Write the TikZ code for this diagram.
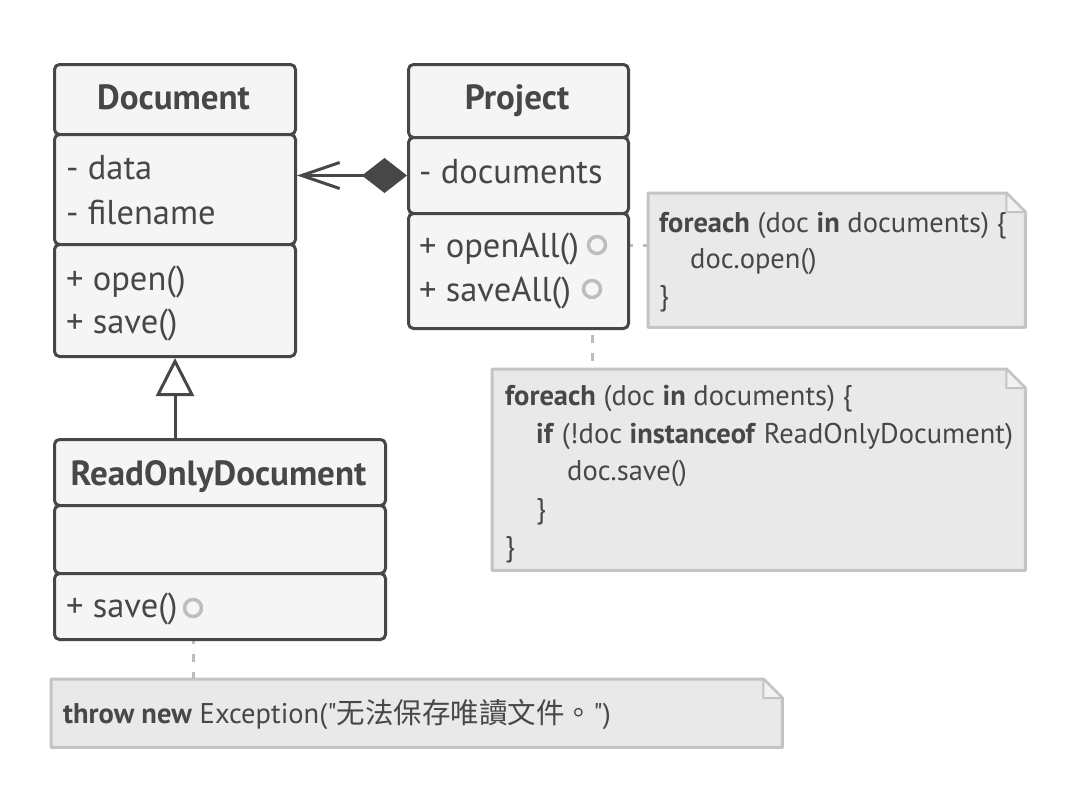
\documentclass[tikz,border=0pt]{standalone}
\usepackage{fontspec}
\setmainfont{PT Sans}[Ligatures=TeXOff]
\newfontfamily\cjk{Noto Sans CJK TC}
\usetikzlibrary{arrows.meta}
\definecolor{ink}{HTML}{474747}
\definecolor{boxfill}{HTML}{F5F5F5}
\definecolor{notefill}{HTML}{E9E9E9}
\definecolor{noteline}{HTML}{C4C4C4}
\definecolor{pinline}{HTML}{BDBDBD}
\definecolor{foldfill}{HTML}{F2F2F2}
\newcommand\drawnote[1]{%
  \draw[notestyle] (#1.north west) -- ([xshift=-19pt]#1.north east) -- ([yshift=-19pt]#1.north east) -- (#1.south east) -- (#1.south west) -- cycle;
  \draw[draw=noteline, line width=2pt, fill=foldfill, line join=round] ([xshift=-19pt]#1.north east) -- ([xshift=-19pt,yshift=-19pt]#1.north east) -- ([yshift=-19pt]#1.north east) -- cycle;}
\begin{document}
\begin{tikzpicture}[x=1pt,y=-1pt,
  comp/.style={draw=ink, fill=boxfill, line width=3pt, rounded corners=5pt, anchor=north west, inner sep=0pt},
  ctitle/.style={font=\fontsize{35}{40}\selectfont\bfseries, text=ink, anchor=base, inner sep=0pt},
  ctext/.style={font=\fontsize{34.5}{40}\selectfont, text=ink, anchor=base west, inner sep=0pt},
  ntext/.style={font=\fontsize{28.5}{36}\selectfont, text=ink, anchor=base west, inner sep=0pt},
  notebg/.style={inner sep=0pt, anchor=north west},
  notestyle/.style={draw=noteline, fill=notefill, line width=3pt, line join=round},
  pin/.style={circle, draw=pinline, fill=boxfill, line width=3.5pt, minimum size=17pt, inner sep=0pt},
  link/.style={draw=pinline, line width=3pt, dash pattern=on 8pt off 10pt},
  rel/.style={draw=ink, line width=3pt}
]
\fill[white] (0,0) rectangle (1080,790);
\useasboundingbox (0,0) rectangle (1080,790);

% note placeholders
\node[notebg, minimum width=377pt, minimum height=134pt] (n1) at (648,193) {};
\node[notebg, minimum width=533pt, minimum height=201pt] (n2) at (492,369) {};
\node[notebg, minimum width=731pt, minimum height=68pt] (n3) at (51,679) {};

% pins
\node[pin] (pin1) at (597,245) {};
\node[pin] (pin2) at (592,289) {};
\node[pin] (pin3) at (193,608) {};

% links
\draw[link] (pin1.east) -- (pin1 -| n1.west);
\draw[link] (pin2.south) -- (pin2 |- n2.north);
\draw[link] (pin3.south) -- (pin3 |- n3.north);

% notes
\drawnote{n1}
\drawnote{n2}
\drawnote{n3}

% Document
\node[comp, minimum width=241pt, minimum height=70pt] (docH) at (53,63) {};
\node[comp, minimum width=241pt, minimum height=110pt] (docA) at (53,133) {};
\node[comp, minimum width=241pt, minimum height=112pt] (docM) at (53,243) {};
% Project
\node[comp, minimum width=220pt, minimum height=73pt] (prjH) at (407,63) {};
\node[comp, minimum width=220pt, minimum height=76pt] (prjA) at (407,136) {};
\node[comp, minimum width=220pt, minimum height=115pt] (prjM) at (407,212) {};
% ReadOnlyDocument
\node[comp, minimum width=331pt, minimum height=66pt] (rodH) at (53,438) {};
\node[comp, minimum width=331pt, minimum height=68pt] (rodA) at (53,504) {};
\node[comp, minimum width=331pt, minimum height=66pt] (rodM) at (53,572) {};

% pins on top
\node[pin] at (pin1) {};
\node[pin] at (pin2) {};
\node[pin] at (pin3) {};

% relations
\draw[rel, {Straight Barb[length=38pt,width=26pt,line width=3pt]}-{Diamond[length=45pt,width=35pt,fill=ink]}] (docA.east |- prjA.west) -- (prjA.west);
\draw[rel, -{Triangle[length=38pt,width=38pt,fill=white,line width=3pt]}] (docM.south |- rodH.north) -- (docM.south);

% class texts
\node[ctitle] (docT) at (173.5,109) {Document};
\node[ctext] (docA1) at (66,179) {- data};
\node[ctext] (docA2) at (66,224) {- filename};
\node[ctext] (docM1) at (66,290) {+ open()};
\node[ctext] (docM2) at (66,333) {+ save()};
\node[ctitle] (prjT) at (517,109) {Project};
\node[ctext] (prjA1) at (419,183) {- documents};
\node[ctext] (prjM1) at (419,257) {+ openAll()};
\node[ctext] (prjM2) at (419,301) {+ saveAll()};
\node[ctitle] (rodT) at (218.5,485) {ReadOnlyDocument};
\node[ctext] (rodM1) at (66,617) {+ save()};

% note texts
\node[ntext] (n1l1) at (659,232) {\textbf{foreach} (doc \textbf{in} documents) \{};
\node[ntext] (n1l2) at (690,268) {doc.open()};
\node[ntext] (n1l3) at (659,305) {\}};
\node[ntext] (n2l1) at (505,405) {\textbf{foreach} (doc \textbf{in} documents) \{};
\node[ntext] (n2l2) at (536,443) {\textbf{if} (!doc \textbf{instanceof} ReadOnlyDocument)};
\node[ntext] (n2l3) at (567,480) {doc.save()};
\node[ntext] (n2l4) at (536,518) {\}};
\node[ntext] (n2l5) at (505,556) {\}};
\node[ntext] (n3l1) at (63,723) {\textbf{throw new} Exception("{\cjk 无法保存唯讀文件。}")};
\end{tikzpicture}
\end{document}
